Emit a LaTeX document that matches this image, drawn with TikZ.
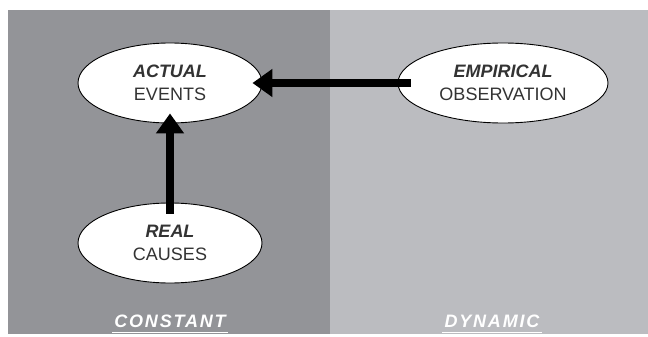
\documentclass[tikz,border=0pt]{standalone}
\usepackage{fontspec}
\setmainfont{Liberation Sans}
\newfontfamily\spacedfont[LetterSpace=10]{Liberation Sans}
\usetikzlibrary{shapes.geometric,arrows.meta}
\definecolor{leftgray}{RGB}{147,148,152}
\definecolor{rightgray}{RGB}{187,188,192}
\definecolor{txtgray}{RGB}{51,51,51}
\tikzset{
  oval/.style={ellipse,draw=black,line width=0.9pt,fill=white,inner sep=0pt,
    minimum height=80pt,text=txtgray,align=center,
    font=\fontsize{18}{23}\selectfont},
  bigarrow/.style={line width=8pt,-{Triangle[length=20pt,width=27pt]}},
  panellabel/.style={text=white,font=\spacedfont\fontsize{18}{20}\selectfont\bfseries\itshape,inner sep=0pt,anchor=base},
  uline/.style={white,line width=1.8pt}
}
\begin{document}
\begin{tikzpicture}[x=1pt,y=-1pt]
\useasboundingbox (0,0) rectangle (648,337);
\fill[white] (0,0) rectangle (648,337);
\fill[leftgray] (8,10) rectangle (330,334);
\fill[rightgray] (330,10) rectangle (648,334);
\node[oval,minimum width=184pt] (act) at (170,83) {\textbf{\textit{ACTUAL}}\\EVENTS};
\node[oval,minimum width=210pt] (emp) at (503,83) {\textbf{\textit{EMPIRICAL}}\\OBSERVATION};
\node[oval,minimum width=184pt] (real) at (170,243) {\textbf{\textit{REAL}}\\CAUSES};
\draw[bigarrow] ([xshift=13pt]emp.west) -- ([xshift=-10pt]act.east);
\draw[bigarrow] ([yshift=-11pt]real.north) -- ([yshift=10pt]act.south);
\node[panellabel] (const) at (170,327) {CONSTANT};
\node[panellabel] (dyn) at (492,327) {DYNAMIC};
\coordinate (cu1) at (112,332.5);
\coordinate (cu2) at (228,332.5);
\coordinate (du1) at (442,332.5);
\coordinate (du2) at (542,332.5);
\draw[uline] (cu1) -- (cu2);
\draw[uline] (du1) -- (du2);
\end{tikzpicture}
\end{document}
